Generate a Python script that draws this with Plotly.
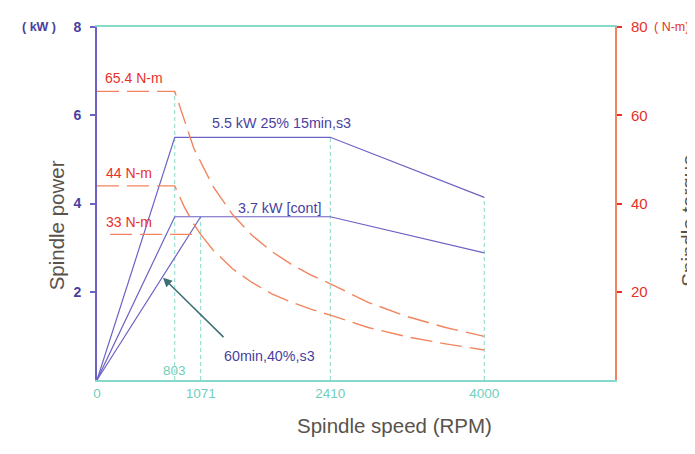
import plotly.graph_objects as go

# ---- data ----
speed_ticks = [0, 1071, 2410, 4000]
base_speed_label = 803

s3_rpm = [0, 803, 2410, 4000]
s3_kw = [0, 5.5, 5.5, 4.14]

s60_rpm = [0, 803, 1071]
s60_kw = [0, 3.7, 3.7]

cont_rpm = [0, 1071, 2410, 4000]
cont_kw = [0, 3.7, 3.7, 2.88]

tq1_rpm = [0, 803, 1000, 1200, 1400, 1600, 1800, 2000, 2200, 2410, 2800, 3200, 3600, 4000]
tq1_nm = [65.4, 65.4, 52.5, 43.8, 37.5, 32.8, 29.2, 26.3, 23.9, 21.8, 17.6, 14.4, 11.9, 9.9]

tq2_rpm = [0, 803, 900, 1000, 1071]
tq2_nm = [44, 44, 39.3, 35.3, 33.0]

tq3_rpm = [135, 1071, 1200, 1400, 1600, 1800, 2000, 2200, 2410, 2800, 3200, 3600, 4000]
tq3_nm = [33, 33, 29.4, 25.2, 22.1, 19.6, 17.7, 16.1, 14.7, 11.9, 9.8, 8.2, 6.8]

guide_rpm = [803, 1071, 2410, 4000]
guide_top_kw = [6.54, 3.7, 5.5, 4.14]

BLUE_LINE = "#6c62c4"
BLUE_TXT = "#4a3f9f"
ORANGE = "#f2845f"
RED_TXT = "#e8302a"
TEAL = "#86d9c9"
TEAL_TXT = "#6fcfbc"
GREY = "#5a524c"
FONT = "Arial, Liberation Sans, sans-serif"

fig = go.Figure()

# guide verticals
for gx, gy in zip(guide_rpm, guide_top_kw):
    fig.add_trace(go.Scatter(x=[gx, gx], y=[0, gy], mode="lines",
                             line=dict(color=TEAL, width=1, dash="4px,3px"),
                             hoverinfo="skip", showlegend=False))

# torque curves (right axis)
for xs, ys in [(tq1_rpm, tq1_nm), (tq2_rpm, tq2_nm), (tq3_rpm, tq3_nm)]:
    fig.add_trace(go.Scatter(x=xs, y=ys, yaxis="y2", mode="lines",
                             line=dict(color=ORANGE, width=1.4, dash="22px,8px"),
                             showlegend=False))

# power curves
for xs, ys in [(s3_rpm, s3_kw), (s60_rpm, s60_kw), (cont_rpm, cont_kw)]:
    fig.add_trace(go.Scatter(x=xs, y=ys, mode="lines",
                             line=dict(color=BLUE_LINE, width=1.2),
                             showlegend=False))

annotations = [
    dict(x=-0.112, y=1.0, xref="paper", yref="paper", text="<b>( kW )</b>", showarrow=False,
         font=dict(family=FONT, size=12.5, color=BLUE_TXT), xanchor="center", yanchor="middle"),
    dict(x=1.11, y=1.0, xref="paper", yref="paper", text="( N-m)", showarrow=False,
         font=dict(family=FONT, size=12.5, color=RED_TXT), xanchor="center", yanchor="middle"),
    dict(x=-0.104, y=0.437, xref="paper", yref="paper", text="Spindle power", showarrow=False,
         textangle=-90, font=dict(family=FONT, size=20.5, color=GREY)),
    dict(x=1.168, y=0.45, xref="paper", yref="paper", text="Spindle torque", showarrow=False,
         textangle=-90, font=dict(family=FONT, size=20.5, color=GREY)),
    dict(x=0.574, y=-0.166, xref="paper", yref="paper", text="Spindle speed (RPM)", showarrow=False,
         font=dict(family=FONT, size=20.5, color=GREY)),
    dict(x=base_speed_label, y=0.22, xref="x", yref="y", text=str(base_speed_label), showarrow=False,
         font=dict(family=FONT, size=13.5, color=TEAL_TXT)),
    dict(x=60, y=68.5, xref="x", yref="y2", text="65.4 N-m", showarrow=False, xanchor="left",
         font=dict(family=FONT, size=14, color=RED_TXT)),
    dict(x=70, y=47.0, xref="x", yref="y2", text="44 N-m", showarrow=False, xanchor="left",
         font=dict(family=FONT, size=14, color=RED_TXT)),
    dict(x=70, y=35.8, xref="x", yref="y2", text="33 N-m", showarrow=False, xanchor="left",
         font=dict(family=FONT, size=14, color=RED_TXT)),
    dict(x=1170, y=5.83, xref="x", yref="y", text="5.5 kW 25% 15min,s3", showarrow=False, xanchor="left",
         font=dict(family=FONT, size=14.3, color=BLUE_TXT)),
    dict(x=1440, y=3.9, xref="x", yref="y", text="3.7 kW [cont]", showarrow=False, xanchor="left",
         font=dict(family=FONT, size=14.3, color=BLUE_TXT)),
    dict(x=1290, y=0.55, xref="x", yref="y", text="60min,40%,s3", showarrow=False, xanchor="left",
         font=dict(family=FONT, size=14.3, color=BLUE_TXT)),
    dict(x=682, y=2.32, xref="x", yref="y", text="", showarrow=True, ax=62, ay=61,
         arrowhead=2, arrowsize=1.2, arrowwidth=1.5, arrowcolor="#3d6f74", standoff=0),
]

fig.update_layout(
    width=687, height=446,
    margin=dict(l=89, r=80, t=10, b=74),
    paper_bgcolor="white", plot_bgcolor="white",
    font=dict(family=FONT),
    annotations=annotations,
    xaxis=dict(range=[0, 5350], showgrid=False, zeroline=False, showline=True, linecolor=TEAL,
               linewidth=2, mirror=True, tickvals=speed_ticks, ticks="",
               tickfont=dict(family=FONT, size=13.5, color=TEAL_TXT)),
    yaxis=dict(range=[0, 8], showgrid=False, zeroline=False, showline=True, linecolor=BLUE_LINE,
               linewidth=2, tickvals=[2, 4, 6, 8], ticks="outside", ticklen=5, tickcolor=BLUE_LINE,
               tickwidth=1.5, ticklabelstandoff=6,
               tickfont=dict(family=FONT, size=14, color=BLUE_TXT, weight="bold")),
    yaxis2=dict(range=[0, 80], overlaying="y", side="right", showgrid=False, zeroline=False,
                showline=True, linecolor=ORANGE, linewidth=2, tickvals=[20, 40, 60, 80],
                ticks="outside", ticklen=5, tickcolor=RED_TXT, tickwidth=1.5, ticklabelstandoff=6,
                tickfont=dict(family=FONT, size=15, color=RED_TXT)),
)

fig.write_html("out.html")
